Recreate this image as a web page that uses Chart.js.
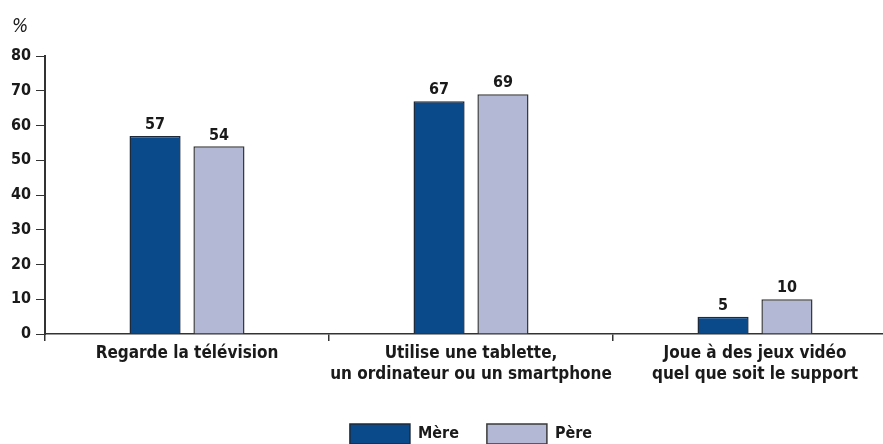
<!DOCTYPE html>
<html>
<head>
<meta charset="utf-8">
<script src="https://cdn.jsdelivr.net/npm/chart.js@4"></script>
<style>
  html, body { margin: 0; padding: 0; background: #fff; overflow: hidden; }
  #wrap { width: 883px; height: 444px; position: relative; overflow: hidden; }
  #c { position: absolute; left: 0; top: 0; }
</style>
</head>
<body>
<div id="wrap"><canvas id="c" width="897" height="444"></canvas></div>
<script>
const categories = [
  ["Regarde la télévision"],
  ["Utilise une tablette,", "un ordinateur ou un smartphone"],
  ["Joue à des jeux vidéo", "quel que soit le support"]
];
const seriesNames = ["Mère", "Père"];
const mereValues = [57, 67, 5];
const pereValues = [54, 69, 10];
const yTicks = [0, 10, 20, 30, 40, 50, 60, 70, 80];
const yUnit = "%";

const FONT = "'Liberation Sans Narrow', 'DejaVu Sans Condensed', sans-serif";
const TEXT = "#1a1a1a";
const AXIS = "#333333";

const valueLabels = {
  id: 'valueLabels',
  afterDatasetsDraw(chart) {
    const ctx = chart.ctx;
    ctx.save();
    ctx.font = "bold 16px " + FONT;
    ctx.fillStyle = TEXT;
    ctx.textAlign = 'center';
    ctx.textBaseline = 'bottom';
    chart.data.datasets.forEach((ds, i) => {
      const meta = chart.getDatasetMeta(i);
      meta.data.forEach((bar, j) => {
        ctx.fillText(String(ds.data[j]), bar.x, bar.y - 3);
      });
    });
    ctx.restore();
  }
};

const unitLabel = {
  id: 'unitLabel',
  afterDraw(chart) {
    const ctx = chart.ctx;
    ctx.save();
    ctx.font = "italic 19px " + FONT;
    ctx.fillStyle = TEXT;
    ctx.textAlign = 'left';
    ctx.textBaseline = 'alphabetic';
    ctx.fillText(yUnit, 12, 32);
    ctx.restore();
  }
};

new Chart(document.getElementById('c'), {
  type: 'bar',
  data: {
    labels: categories,
    datasets: [
      {
        label: seriesNames[0],
        data: mereValues,
        backgroundColor: '#0b4a8a',
        borderColor: '#1e2a3a',
        borderWidth: 1.5,
        categoryPercentage: 0.45,
        barPercentage: 0.8
      },
      {
        label: seriesNames[1],
        data: pereValues,
        backgroundColor: '#b3b8d4',
        borderColor: '#3a3a3a',
        borderWidth: 1.5,
        categoryPercentage: 0.45,
        barPercentage: 0.8
      }
    ]
  },
  options: {
    responsive: false,
    animation: false,
    layout: { padding: { top: 56, right: 0, bottom: -10, left: 0 } },
    plugins: {
      tooltip: { enabled: false },
      title: { display: false },
      legend: {
        display: true,
        position: 'bottom',
        fullSize: false,
        labels: {
          boxWidth: 60,
          boxHeight: 20,
          padding: 28,
          color: TEXT,
          font: { family: FONT, size: 16, weight: 'bold' },
          generateLabels(chart) {
            return chart.data.datasets.map((ds, i) => ({
              text: ds.label,
              fillStyle: ds.backgroundColor,
              strokeStyle: ds.borderColor,
              lineWidth: 1.5,
              datasetIndex: i,
              fontColor: TEXT
            }));
          }
        }
      }
    },
    scales: {
      x: {
        grid: {
          display: true,
          drawOnChartArea: false,
          drawTicks: true,
          tickLength: 7,
          color: AXIS,
          lineWidth: 1.5,
          offset: true
        },
        border: { display: true, color: AXIS, width: 1.5 },
        ticks: {
          color: TEXT,
          padding: 2,
          maxRotation: 0,
          autoSkip: false,
          font: { family: FONT, size: 17, weight: 'bold', lineHeight: 1.25 }
        },
        afterFit(scale) { scale.height = 62; }
      },
      y: {
        min: 0,
        max: 80,
        afterBuildTicks(scale) { scale.ticks = yTicks.map(v => ({ value: v })); },
        grid: {
          display: true,
          drawOnChartArea: false,
          drawTicks: true,
          tickLength: 9,
          color: AXIS,
          lineWidth: 1
        },
        border: { display: true, color: AXIS, width: 2 },
        ticks: {
          color: TEXT,
          padding: 5,
          font: { family: FONT, size: 16, weight: 'bold' }
        },
        afterFit(scale) { scale.width = 45; }
      }
    }
  },
  plugins: [valueLabels, unitLabel]
});
</script>
</body>
</html>
